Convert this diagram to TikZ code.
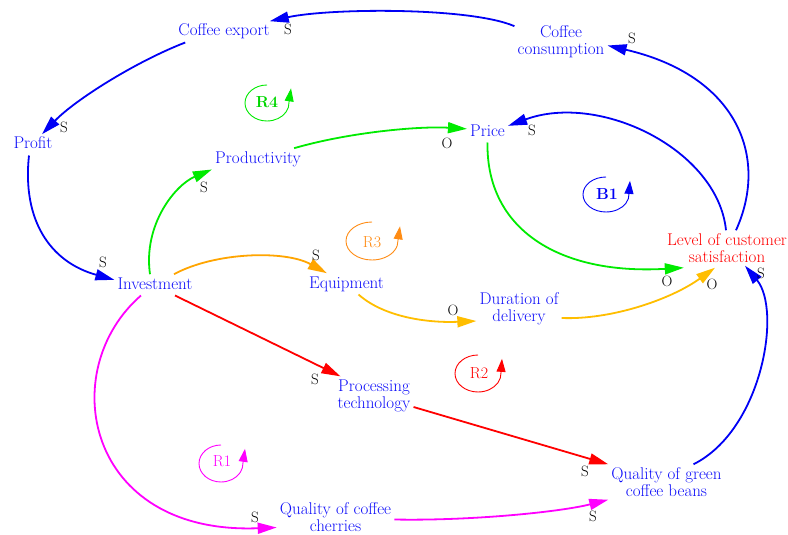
\documentclass[tikz,border=0pt]{standalone}
\usetikzlibrary{arrows.meta}

\definecolor{varblue}{RGB}{15,15,250}
\definecolor{linkblue}{RGB}{0,0,245}
\definecolor{linkgreen}{RGB}{0,235,0}
\definecolor{loopgreen}{RGB}{0,215,0}
\definecolor{linkorange}{RGB}{255,165,0}
\definecolor{linkyellow}{RGB}{255,190,0}
\definecolor{looporange}{RGB}{255,140,20}
\definecolor{linkred}{RGB}{255,0,0}
\definecolor{linkmag}{RGB}{255,0,255}

\begin{document}
\begin{tikzpicture}[x=1pt,y=-1pt,
  var/.style={font=\fontsize{17}{17}\selectfont, text=varblue, inner sep=3pt},
  var1/.style={var, anchor=base, text height=11.6pt, text depth=3.3pt},
  var2/.style={var, align=center, anchor=center},
  link/.style={line width=1.8pt, -{Triangle[length=19pt,width=11pt]}},
  pol/.style={font=\fontsize{15}{15}\selectfont, inner sep=0pt, anchor=center},
  looplbl/.style={font=\fontsize{16}{16}\selectfont, inner sep=0pt, anchor=center},
  ring/.style={line width=0.9pt, -{Triangle[length=13pt,width=9pt]}},
]
\fill[white] (0,0) rectangle (788,535);
\useasboundingbox (0,0) rectangle (788,535);

% variables
\node[var1] (exp)   at (224,36)    {Coffee export};
\node[var1] (prof)  at (33,149)    {Profit};
\node[var1] (prod)  at (258,163)   {Productivity};
\node[var1] (price) at (487.5,136) {Price};
\node[var1] (inv)   at (155,289)   {Investment};
\node[var1] (equip) at (346.5,288) {Equipment};
\node[var2] (cons)  at (561,41.5)  {Coffee\\consumption};
\node[var2, text=linkred] (level) at (727,248) {Level of customer\\satisfaction};
\node[var2] (dur)   at (519,308.6) {Duration of\\delivery};
\node[var2] (proc)  at (374,395.6) {Processing\\technology};
\node[var2] (green) at (666.5,482) {Quality of green\\coffee beans};
\node[var2] (cher)  at (335.5,517.5) {Quality of coffee\\cherries};

% causal links
\draw[link, linkblue] ([yshift=-4pt]cons.north west) .. controls (470,7) and (330,8) .. ([xshift=-3pt]exp.north east);
\draw[link, linkblue] ([xshift=10pt]exp.south west) .. controls (135,62) and (75,100) .. ([xshift=9pt]prof.north);
\draw[link, linkblue] ([xshift=-4pt]prof.south) .. controls (22,220) and (50,262) .. ([yshift=5pt]inv.west);
\draw[link, linkgreen] ([xshift=-5pt]inv.north) .. controls (143,225) and (175,185) .. (prod.south west);
\draw[link, linkgreen] ([xshift=-10pt]prod.north east) .. controls (350,132) and (420,126) .. ([yshift=3pt]price.west);
\draw[link, linkgreen] (price.south) .. controls (486,230) and (560,275) .. ([xshift=20pt,yshift=-2pt]level.south west);
\draw[link, linkblue] ([xshift=-1pt]level.north) .. controls (718,150) and (600,92) .. ([yshift=6pt]price.east);
\draw[link, linkblue] ([xshift=9pt]level.north) .. controls (770,155) and (735,75) .. ([yshift=-4pt]cons.east);
\draw[link, linkorange] ([xshift=19pt]inv.north) .. controls (215,252) and (285,250) .. ([xshift=21pt]equip.north west);
\draw[link, linkyellow] ([xshift=12pt]equip.south) .. controls (385,318) and (430,323) .. ([yshift=-12.4pt]dur.west);
\draw[link, linkyellow] ([yshift=-9.4pt]dur.east) .. controls (610,320) and (670,300) .. ([xshift=-12pt,yshift=-2pt]level.south);
\draw[link, linkred] ([xshift=20pt]inv.south) -- ([xshift=6pt]proc.north west);
\draw[link, linkred] ([yshift=-11.4pt]proc.east) -- (green.north west);
\draw[link, linkmag] ([xshift=-14pt]inv.south) .. controls (55,370) and (85,535) .. ([yshift=-10pt]cher.west);
\draw[link, linkmag] ([yshift=-2pt]cher.east) .. controls (470,521) and (560,512) .. (green.south west);
\draw[link, linkblue] ([xshift=27pt]green.north) .. controls (762,430) and (782,310) .. ([xshift=18pt]level.south);

% link polarities
\node[pol] (p1)  at (288,29)  {S};
\node[pol] (p2)  at (64,127)  {S};
\node[pol] (p3)  at (103,262) {S};
\node[pol] (p4)  at (204,187) {S};
\node[pol] (p5)  at (447,143) {O};
\node[pol] (p6)  at (532,130) {S};
\node[pol] (p7)  at (632,38)  {S};
\node[pol] (p8)  at (667,281) {O};
\node[pol] (p9)  at (712,284) {O};
\node[pol] (p10) at (761,273) {S};
\node[pol] (p11) at (316,255) {S};
\node[pol] (p12) at (453,310) {O};
\node[pol] (p13) at (315,379) {S};
\node[pol] (p14) at (585,471) {S};
\node[pol] (p15) at (593,516) {S};
\node[pol] (p16) at (255,517) {S};

% loop markers
\node[looplbl, text=loopgreen, font=\fontsize{16}{16}\selectfont\bfseries] (r4) at (267,102) {R4};
\draw[ring, linkgreen] (267,85) arc[start angle=-90, end angle=-362, x radius=22, y radius=18] -- ++(2,-14);

\node[looplbl, text=linkblue, font=\fontsize{16}{16}\selectfont\bfseries] (b1) at (607,194) {B1};
\draw[ring, linkblue] (606,177) arc[start angle=-90, end angle=-362, x radius=23, y radius=17.5] -- ++(1,-13);

\node[looplbl, text=looporange] (r3) at (372,242) {R3};
\draw[ring, looporange] (372,222) arc[start angle=-90, end angle=-362, x radius=26, y radius=19] -- ++(2,-14);

\node[looplbl, text=linkred] (r2) at (479,373) {R2};
\draw[ring, linkred] (478,355) arc[start angle=-90, end angle=-362, x radius=23, y radius=18.5] -- ++(1,-14);

\node[looplbl, text=linkmag] (r1) at (222,461) {R1};
\draw[ring, linkmag] (221,445) arc[start angle=-90, end angle=-362, x radius=22, y radius=18.5] -- ++(2,-14);
\end{tikzpicture}
\end{document}
